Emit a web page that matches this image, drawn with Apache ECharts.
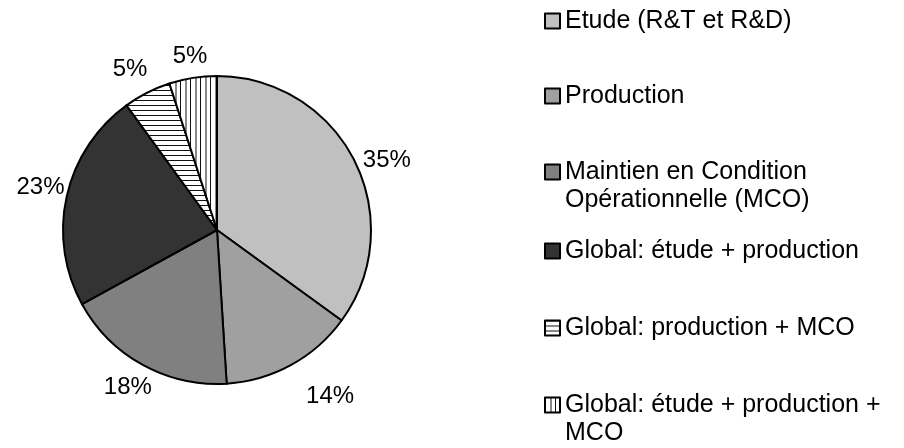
<!DOCTYPE html>
<html>
<head>
<meta charset="utf-8">
<script src="https://cdn.jsdelivr.net/npm/echarts@6/dist/echarts.min.js"></script>
<style>
  html, body { margin: 0; padding: 0; background: #fff; }
  #main { width: 904px; height: 448px; }
</style>
</head>
<body>
<div id="main"></div>
<script>
// data
const categories = [
  'Etude (R&T et R&D)',
  'Production',
  'Maintien en Condition Opérationnelle (MCO)',
  'Global: étude + production',
  'Global: production + MCO',
  'Global: étude + production + MCO'
];
const legendLabels = [
  'Etude (R&T et R&D)',
  'Production',
  'Maintien en Condition\nOpérationnelle (MCO)',
  'Global: étude + production',
  'Global: production + MCO',
  'Global: étude + production +\nMCO'
];
const shares = [35, 14, 18, 23, 5, 5];

// stripe fills
function hStripes() {
  const c = document.createElement('canvas');
  c.width = 10; c.height = 5;
  const g = c.getContext('2d');
  g.fillStyle = '#fff'; g.fillRect(0, 0, 10, 5);
  g.fillStyle = '#111'; g.fillRect(0, 0, 10, 1);
  return { image: c, repeat: 'repeat' };
}
function vStripes() {
  const c = document.createElement('canvas');
  c.width = 10; c.height = 10;
  const g = c.getContext('2d');
  g.fillStyle = '#fff'; g.fillRect(0, 0, 10, 10);
  g.fillStyle = '#111'; g.fillRect(0, 0, 1, 10);
  g.fillStyle = '#888'; g.fillRect(5, 0, 2, 10);
  return { image: c, repeat: 'repeat' };
}
const fills = ['#c0c0c0', '#a0a0a0', '#808080', '#333333', hStripes(), vStripes()];

// label nudges (Excel "best fit" look)
const labelNudge = [[5, 14], [24, 4], [0, -5], [4, -2], [-3, 4], [2, 9]];

const font = 'Liberation Sans, Arial, sans-serif';
const legendTops = [2, 77, 125, 232, 309, 358];

let myChart = echarts.init(document.getElementById('main'));

let legends = categories.map(function (name, i) {
  const multi = legendLabels[i].indexOf('\n') >= 0;
  return {
    orient: 'vertical',
    left: 539,
    top: legendTops[i],
    itemWidth: 15,
    itemHeight: 15,
    icon: 'rect',
    selectedMode: false,
    data: [name],
    itemStyle: { borderColor: '#000', borderWidth: 2 },
    // leading blank line keeps the icon on the first text line
    formatter: function () { return (multi ? '\n' : '') + legendLabels[i]; },
    textStyle: {
      fontFamily: font,
      fontSize: 25,
      lineHeight: 28,
      color: '#000'
    }
  };
});

let option = {
  animation: false,
  legend: legends,
  series: [
    {
      name: 'parts',
      type: 'pie',
      center: [217, 230],
      radius: [0, 154],
      startAngle: 90,
      clockwise: true,
      silent: true,
      label: { show: false },
      labelLine: { show: false },
      itemStyle: { borderColor: '#000', borderWidth: 2 },
      data: categories.map(function (n, i) {
        return { name: n, value: shares[i], itemStyle: { color: fills[i] } };
      })
    },
    {
      name: 'labels',
      type: 'pie',
      center: [217, 230],
      radius: [154, 210],
      startAngle: 90,
      clockwise: true,
      silent: true,
      itemStyle: { color: 'rgba(0,0,0,0)', borderWidth: 0 },
      label: {
        show: true,
        position: 'inside',
        formatter: '{c}%',
        fontFamily: font,
        fontSize: 24,
        color: '#000'
      },
      labelLine: { show: false },
      data: categories.map(function (n, i) {
        return { name: n, value: shares[i], label: { offset: labelNudge[i] } };
      })
    }
  ]
};

myChart.setOption(option);
</script>
</body>
</html>
